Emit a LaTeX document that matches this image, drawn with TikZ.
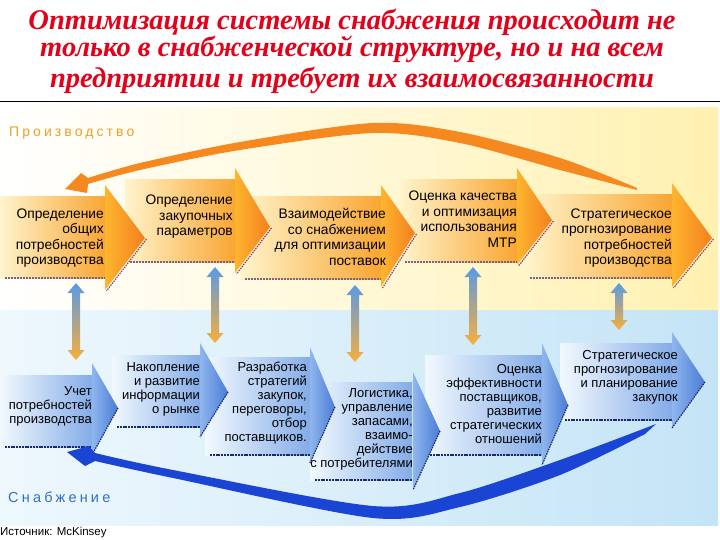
\documentclass[tikz,border=0pt]{standalone}
\usepackage{fontspec}
\setmainfont{Liberation Sans}
\newfontfamily\titlefont{Liberation Serif}
\definecolor{ttlred}{HTML}{E2001A}
\definecolor{bgYl}{HTML}{FFFFFF}
\definecolor{bgYr}{HTML}{FFF1B0}
\definecolor{bgBl}{HTML}{EEF8FD}
\definecolor{bgBr}{HTML}{C4E4F6}
\definecolor{orBodyL}{HTML}{FFF4CC}
\definecolor{orBodyR}{HTML}{F9A633}
\definecolor{orHeadL}{HTML}{FDB52E}
\definecolor{orHeadR}{HTML}{F47F1F}
\definecolor{blBodyL}{HTML}{F2F9FE}
\definecolor{blBodyR}{HTML}{84ACE8}
\definecolor{blHeadL}{HTML}{8FB6EE}
\definecolor{blHeadR}{HTML}{4A7BD6}
\definecolor{navy}{HTML}{1A2A6A}
\definecolor{arcOr}{HTML}{F5891F}
\definecolor{arcBl}{HTML}{1A45D4}
\definecolor{vblue}{HTML}{5A9AE6}
\definecolor{vsalm}{HTML}{E9A08C}
\definecolor{vor}{HTML}{F8AE3A}
\definecolor{prodC}{HTML}{E8A22A}
\definecolor{snabC}{HTML}{2F6FC4}
\tikzset{
  ttl/.style={font=\titlefont\bfseries\itshape\fontsize{28.5}{30}\selectfont, text=ttlred, inner sep=0pt},
  ttxt/.style={font=\fontsize{13.8}{15.5}\selectfont, align=right, anchor=east, inner sep=0pt, text=black},
  btxt/.style={font=\fontsize{13}{14}\selectfont, align=right, anchor=east, inner sep=0pt, text=black},
  uline/.style={draw=gray!75!violet, line width=1.6pt, dash pattern=on 2pt off 1pt},
  bline/.style={draw=navy, line width=1.8pt, dash pattern=on 2pt off 0.8pt},
  hedge/.style={draw=navy, line width=1.2pt, dash pattern=on 1.5pt off 1pt},
}
% orange body: xl xr bt bb
\newcommand\obody[4]{%
  \shade[left color=orBodyL, right color=orBodyR] (#1,#3) rectangle (#2,#4);
  \draw[uline] (#1+5,#4) -- (#2,#4);}
% orange head: xr ht hb tx ty
\newcommand\ohead[5]{%
  \draw[draw=gray!60!violet, line width=1.2pt, dash pattern=on 1.5pt off 1pt] (#4+1.5,#5+1) -- (#1+1.5,#3+1);
  \shade[left color=orHeadL, right color=orHeadR] (#1,#2) -- (#4,#5) -- (#1,#3) -- cycle;}
% blue body
\newcommand\bbody[4]{%
  \shade[left color=blBodyL, right color=blBodyR] (#1,#3) rectangle (#2,#4);
  \draw[bline] (#1+5,#4) -- (#2,#4);}
% blue head
\newcommand\bhead[5]{%
  \shade[left color=blHeadL, right color=blHeadR] (#1,#2) -- (#4,#5) -- (#1,#3) -- cycle;
  \draw[hedge] (#4,#5) -- (#1,#3);}
% vertical double arrow: x yt yb
\newcommand\varr[3]{%
  \shade[top color=vblue, middle color=vsalm, bottom color=vor]
   (#1-4,#2+10) -- (#1-8.5,#2+10) -- (#1,#2) -- (#1+8.5,#2+10) -- (#1+4,#2+10)
   -- (#1+4,#3-10) -- (#1+8.5,#3-10) -- (#1,#3) -- (#1-8.5,#3-10) -- (#1-4,#3-10) -- cycle;}
\begin{document}
\begin{tikzpicture}[x=1pt,y=-1pt]
\useasboundingbox (0,0) rectangle (720,540);
\fill[white] (0,0) rectangle (720,540);
% title
\node[ttl] (ttl1) at (352,22) {Оптимизация системы снабжения происходит не};
\node[ttl] (ttl2) at (352,49) {только в снабженческой структуре, но и на всем};
\node[ttl] (ttl3) at (352,80) {предприятии и требует их взаимосвязанности};
\draw[black, line width=1.3pt] (0,101.5) -- (720,101.5);
% backgrounds
\shade[left color=bgYl, right color=bgYr] (0,108) rectangle (718,310);
\shade[left color=bgBl, right color=bgBr] (0,310) rectangle (718,525);
% section labels
\node[anchor=west, inner sep=0pt, text=prodC, font=\fontsize{14}{16}\selectfont\addfontfeature{LetterSpace=22}] (prod) at (9,133) {Производство};
\node[anchor=west, inner sep=0pt, text=snabC, font=\fontsize{14.5}{16}\selectfont\addfontfeature{LetterSpace=22}] (snab) at (8,497) {Снабжение};
\node[anchor=west, inner sep=0pt, text=black, font=\fontsize{11.5}{12}\selectfont] (src) at (0,533) {Источник: McKinsey};
% top row bodies
\obody{0}{105}{197}{278}
\obody{125}{235}{180}{262}
\obody{240}{381}{197}{279}
\obody{400}{517}{180}{262}
\obody{525}{672}{195}{278}
% top row heads
\ohead{105}{185}{290}{145}{238}
\ohead{235}{168}{273}{270}{227}
\ohead{381}{185}{287}{415}{233}
\ohead{517}{168}{265}{552}{220}
\ohead{672}{183}{287}{712}{238}
% top row texts
\node[ttxt] (t1) at (104,238) {Определение\\общих\\потребностей\\производства};
\node[ttxt] (t2) at (233,217) {Определение\\закупочных\\параметров};
\node[ttxt] (t3) at (386,237) {Взаимодействие\\со снабжением\\для оптимизации\\поставок};
\node[ttxt] (t4) at (517,219) {Оценка качества\\и оптимизация\\использования\\МТР};
\node[ttxt] (t5) at (672,238) {Стратегическое\\прогнозирование\\потребностей\\производства};
% bottom row bodies
\bbody{0}{92}{375}{447}
\bbody{112}{200}{355}{427}
\bbody{205}{310}{357}{455}
\bbody{310}{412}{382}{480}
\bbody{425}{542}{355}{455}
\bbody{560}{672}{343}{420}
% bottom row heads
\bhead{92}{363}{455}{118}{408}
\bhead{200}{343}{437}{228}{392}
\bhead{310}{347}{463}{335}{407}
\bhead{413}{372}{490}{440}{431}
\bhead{542}{343}{465}{568}{405}
\bhead{672}{332}{428}{705}{382}
% bottom row texts
\node[btxt] (b1) at (92,406) {Учет\\потребностей\\производства};
\node[btxt] (b2) at (200,389) {Накопление\\и развитие\\информации\\о рынке};
\node[btxt] (b3) at (307,403) {Разработка\\стратегий\\закупок,\\переговоры,\\отбор\\поставщиков.};
\node[btxt] (b4) at (413,429) {Логистика,\\управление\\запасами,\\взаимо-\\действие\\с потребителями};
\node[btxt] (b5) at (542,404) {Оценка\\эффективности\\поставщиков,\\развитие\\стратегических\\отношений};
\node[btxt] (b6) at (678,377) {Стратегическое\\прогнозирование\\и планирование\\закупок};
% vertical arrows
\varr{76}{283}{360}
\varr{215}{267}{343}
\varr{355}{285}{362}
\varr{473}{267}{345}
\varr{619}{283}{330}
% orange arc
\fill[arcOr] plot[smooth] coordinates {(637,188) (560,158) (460,132) (373,123) (240,142) (140,163) (88,178)}
  -- (81,173) -- (65,189) -- (87,193) -- (88,184)
  -- plot[smooth] coordinates {(88,184) (140,170) (240,150) (373,133) (460,143) (560,170) (637,190)} -- cycle;
% blue arc
\fill[arcBl] plot[smooth] coordinates {(656,424) (560,460) (460,493) (373,506) (173,470) (95,453)}
  -- (89,446) -- (67,452) -- (85,466) -- (95,461)
  -- plot[smooth] coordinates {(95,461) (173,478) (373,518) (460,507) (560,475) (645,434)} -- cycle;
\end{tikzpicture}
\end{document}
